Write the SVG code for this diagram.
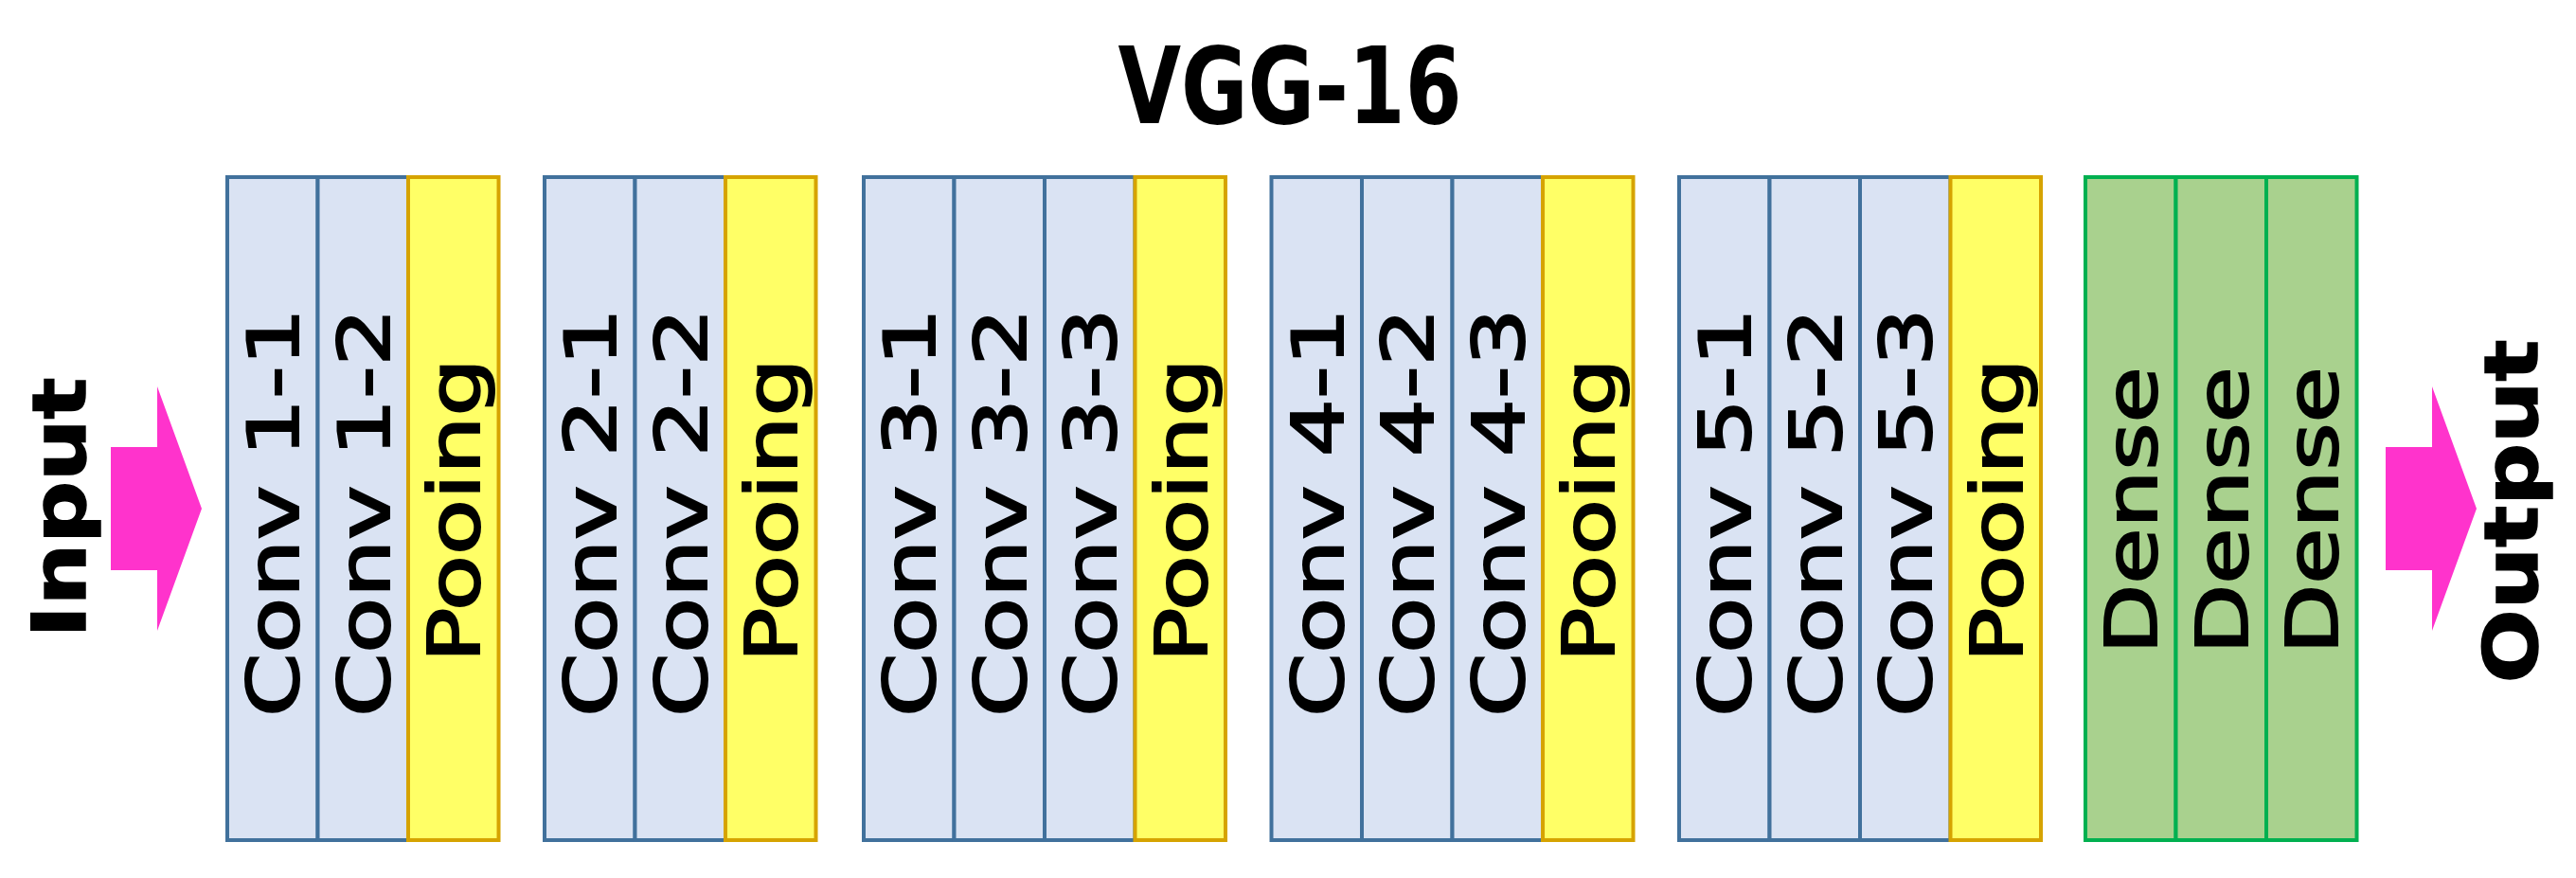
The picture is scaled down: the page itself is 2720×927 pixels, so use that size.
<svg xmlns="http://www.w3.org/2000/svg" width="2720" height="927" viewBox="0 0 2720 927">
<style>
.conv{fill:#DAE3F3;stroke:#41719C;stroke-width:4}
.pool{fill:#FFFF66;stroke:#D6A300;stroke-width:4}
.dense{fill:#A9D18E;stroke:#00B050;stroke-width:4}
.lbl{font-family:"DejaVu Sans",Verdana,sans-serif;font-size:74px;fill:#000;stroke:#000;stroke-width:2;text-anchor:middle}
.io{font-family:"DejaVu Sans",Verdana,sans-serif;font-size:78px;font-weight:bold;fill:#000;stroke:#000;stroke-width:1.5;text-anchor:middle}
.title{font-family:"DejaVu Sans",Verdana,sans-serif;font-size:86px;font-weight:bold;fill:#000;text-anchor:middle}
.arrow{fill:#FF33CC}
</style>
<rect width="2720" height="927" fill="#FFFFFF"/>
<g id="title"><text class="title" transform="translate(1362,130) scale(1,1.3)">VGG-16</text></g>
<g id="input"><text class="io" transform="translate(90,536) rotate(-90) scale(1.18,1)">Input</text></g>
<g id="output"><text class="io" transform="translate(2679,540) rotate(-90) scale(1.18,1)">Output</text></g>

<g id="conv1-1"><rect class="conv" x="240" y="187" width="95.5" height="700"/><text class="lbl" transform="translate(315.25,541) rotate(-90) scale(1.3,1)">Conv 1-1</text></g>
<g id="conv1-2"><rect class="conv" x="335.5" y="187" width="95.5" height="700"/><text class="lbl" transform="translate(410.75,541) rotate(-90) scale(1.3,1)">Conv 1-2</text></g>
<g id="pool1"><rect class="pool" x="431" y="187" width="95.5" height="700"/><text class="lbl" transform="translate(506.25,539) rotate(-90) scale(1.3,1)">Pooing</text></g>

<g id="conv2-1"><rect class="conv" x="575" y="187" width="95.5" height="700"/><text class="lbl" transform="translate(650.25,541) rotate(-90) scale(1.3,1)">Conv 2-1</text></g>
<g id="conv2-2"><rect class="conv" x="670.5" y="187" width="95.5" height="700"/><text class="lbl" transform="translate(745.75,541) rotate(-90) scale(1.3,1)">Conv 2-2</text></g>
<g id="pool2"><rect class="pool" x="766" y="187" width="95.5" height="700"/><text class="lbl" transform="translate(841.25,539) rotate(-90) scale(1.3,1)">Pooing</text></g>

<g id="conv3-1"><rect class="conv" x="912" y="187" width="95.5" height="700"/><text class="lbl" transform="translate(987.25,541) rotate(-90) scale(1.3,1)">Conv 3-1</text></g>
<g id="conv3-2"><rect class="conv" x="1007.5" y="187" width="95.5" height="700"/><text class="lbl" transform="translate(1082.75,541) rotate(-90) scale(1.3,1)">Conv 3-2</text></g>
<g id="conv3-3"><rect class="conv" x="1103" y="187" width="95.5" height="700"/><text class="lbl" transform="translate(1178.25,541) rotate(-90) scale(1.3,1)">Conv 3-3</text></g>
<g id="pool3"><rect class="pool" x="1198.5" y="187" width="95.5" height="700"/><text class="lbl" transform="translate(1273.75,539) rotate(-90) scale(1.3,1)">Pooing</text></g>

<g id="conv4-1"><rect class="conv" x="1342.5" y="187" width="95.5" height="700"/><text class="lbl" transform="translate(1417.75,541) rotate(-90) scale(1.3,1)">Conv 4-1</text></g>
<g id="conv4-2"><rect class="conv" x="1438" y="187" width="95.5" height="700"/><text class="lbl" transform="translate(1513.25,541) rotate(-90) scale(1.3,1)">Conv 4-2</text></g>
<g id="conv4-3"><rect class="conv" x="1533.5" y="187" width="95.5" height="700"/><text class="lbl" transform="translate(1608.75,541) rotate(-90) scale(1.3,1)">Conv 4-3</text></g>
<g id="pool4"><rect class="pool" x="1629" y="187" width="95.5" height="700"/><text class="lbl" transform="translate(1704.25,539) rotate(-90) scale(1.3,1)">Pooing</text></g>

<g id="conv5-1"><rect class="conv" x="1773" y="187" width="95.5" height="700"/><text class="lbl" transform="translate(1848.25,541) rotate(-90) scale(1.3,1)">Conv 5-1</text></g>
<g id="conv5-2"><rect class="conv" x="1868.5" y="187" width="95.5" height="700"/><text class="lbl" transform="translate(1943.75,541) rotate(-90) scale(1.3,1)">Conv 5-2</text></g>
<g id="conv5-3"><rect class="conv" x="1964" y="187" width="95.5" height="700"/><text class="lbl" transform="translate(2039.25,541) rotate(-90) scale(1.3,1)">Conv 5-3</text></g>
<g id="pool5"><rect class="pool" x="2059.5" y="187" width="95.5" height="700"/><text class="lbl" transform="translate(2134.75,539) rotate(-90) scale(1.3,1)">Pooing</text></g>

<g id="dense1"><rect class="dense" x="2202" y="187" width="95.5" height="700"/><text class="lbl" transform="translate(2277.25,539) rotate(-90) scale(1.3,1)">Dense</text></g>
<g id="dense2"><rect class="dense" x="2297.5" y="187" width="95.5" height="700"/><text class="lbl" transform="translate(2372.75,539) rotate(-90) scale(1.3,1)">Dense</text></g>
<g id="dense3"><rect class="dense" x="2393" y="187" width="95.5" height="700"/><text class="lbl" transform="translate(2468.25,539) rotate(-90) scale(1.3,1)">Dense</text></g>

<g id="connectors">
<polygon class="arrow" points="117,472 166,472 166,408 213,537 166,666 166,602 117,602"/>
<polygon class="arrow" points="2519,472 2568,472 2568,408 2615,537 2568,666 2568,602 2519,602"/>
</g>
</svg>
